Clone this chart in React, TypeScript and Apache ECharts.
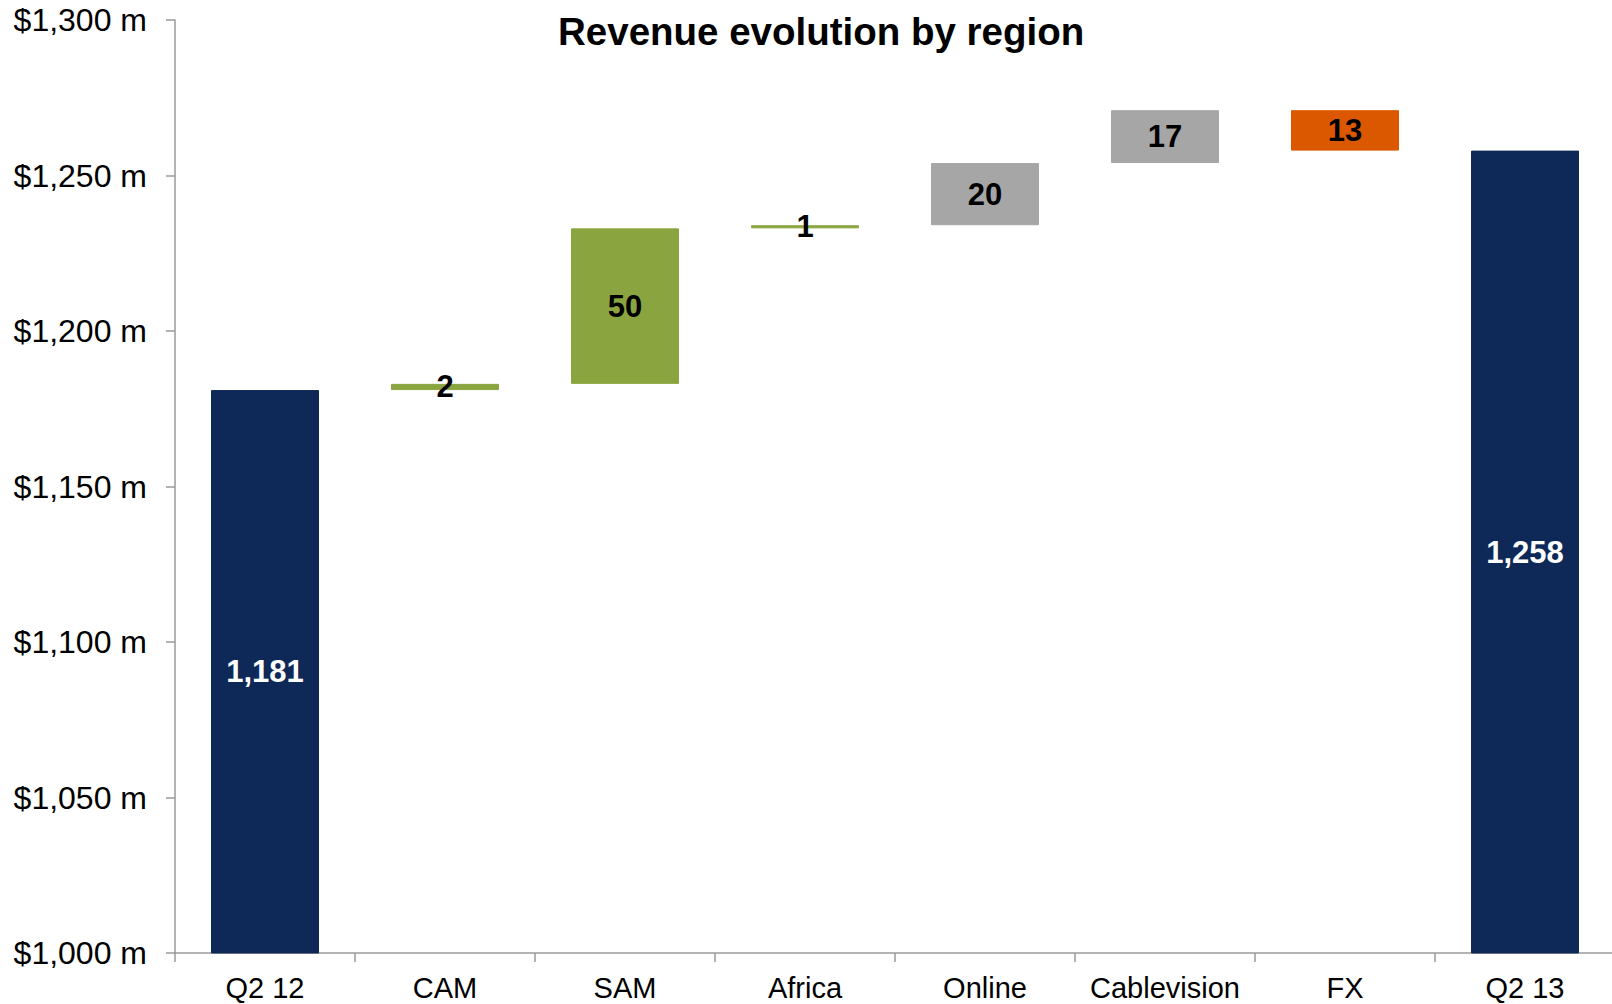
import React, { useEffect, useRef } from "react";
import * as echarts from "echarts";

const categories = ["Q2 12", "CAM", "SAM", "Africa", "Online", "Cablevision", "FX", "Q2 13"];
// first and last are totals, the rest are changes
const changes = [1181, 2, 50, 1, 20, 17, -13, 1258];
const kinds = ["total", "region", "region", "region", "segment", "segment", "fx", "total"];
const yTicks = { min: 1000, max: 1300, interval: 50 };
const titleText = "Revenue evolution by region";

const kindColors: Record<string, string> = {
  total: "#0e2857",
  region: "#8aa53f",
  segment: "#a6a6a6",
  fx: "#db5800",
};

const FONT = "'Liberation Sans', Arial, sans-serif";

function fmt(n: number) {
  return Math.abs(n).toLocaleString("en-US");
}

export default function App() {
  const ref = useRef<HTMLDivElement>(null);
  useEffect(() => {
    if (!ref.current) return;
    const chart = echarts.init(ref.current, null, { renderer: "svg" });

    const bases: number[] = [];
    const heights: number[] = [];
    let running = 0;
    changes.forEach((d, i) => {
      if (kinds[i] === "total") {
        bases.push(0);
        heights.push(d);
        running = d;
      } else if (d >= 0) {
        bases.push(running);
        heights.push(d);
        running += d;
      } else {
        running += d;
        bases.push(running);
        heights.push(-d);
      }
    });

    chart.setOption({
      animation: false,
      backgroundColor: "#ffffff",
      title: {
        text: titleText,
        left: 553,
        top: 7,
        textStyle: { fontFamily: FONT, fontSize: 38.5, fontWeight: "bold", color: "#000" },
      },
      grid: { left: 175, right: 0, top: 20, bottom: 51, containLabel: false },
      xAxis: {
        type: "category",
        data: categories,
        axisLine: { lineStyle: { color: "#9a9a9a", width: 1.5 } },
        axisTick: { show: true, length: 9, lineStyle: { color: "#9a9a9a", width: 1.5 } },
        axisLabel: { interval: 0, margin: 20, fontFamily: FONT, fontSize: 29, color: "#000" },
      },
      yAxis: {
        type: "value",
        min: yTicks.min,
        max: yTicks.max,
        interval: yTicks.interval,
        splitLine: { show: false },
        axisLine: { show: true, lineStyle: { color: "#9a9a9a", width: 1.5 } },
        axisTick: { show: true, length: 9, lineStyle: { color: "#9a9a9a", width: 1.5 } },
        axisLabel: {
          margin: 28,
          fontFamily: FONT,
          fontSize: 32,
          color: "#000",
          formatter: (v: number) => "$" + v.toLocaleString("en-US") + " m",
        },
      },
      series: [
        {
          type: "bar",
          stack: "w",
          silent: true,
          barWidth: "60%",
          itemStyle: { color: "transparent" },
          data: bases,
        },
        {
          type: "bar",
          stack: "w",
          barWidth: "60%",
          data: heights.map((h, i) => ({
            value: h,
            itemStyle: {
              color: kindColors[kinds[i]],
              borderColor: kindColors[kinds[i]],
              borderWidth: 1,
            },
            label: {
              show: true,
              position: "inside",
              formatter: fmt(changes[i]),
              fontFamily: FONT,
              fontSize: 31,
              fontWeight: "bold",
              color: kinds[i] === "total" ? "#ffffff" : "#000000",
            },
          })),
        },
      ],
    });
    return () => chart.dispose();
  }, []);

  return (
    <div
      ref={ref}
      style={{ position: "fixed", left: 0, top: 0, width: 1615, height: 1004, background: "#fff" }}
    />
  );
}
